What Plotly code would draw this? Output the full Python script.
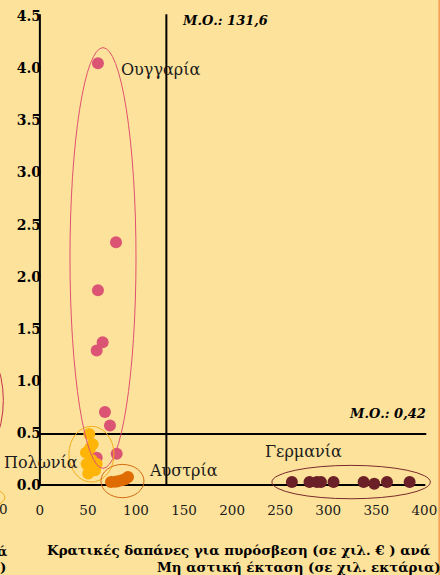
import plotly.graph_objects as go

# ---------------- data ----------------
hungary_x = [60.4, 79.2, 60.4, 65.3, 59.1, 67.7, 72.9, 79.9, 59.1]
hungary_y = [4.05, 2.33, 1.87, 1.37, 1.29, 0.70, 0.57, 0.30, 0.26]

poland_x = [51.4, 54.9, 52.1, 47.9, 53.9, 48.6, 59.1, 57.3, 50.3, 52.5]
poland_y = [0.49, 0.39, 0.35, 0.31, 0.24, 0.20, 0.20, 0.14, 0.11, 0.16]

austria_x = [74.0, 78.5, 81.3, 85.4, 88.5, 91.7]
austria_y = [0.027, 0.030, 0.035, 0.045, 0.055, 0.075]

germany_x = [262.2, 280.5, 288.2, 292.4, 305.5, 336.8, 347.9, 361.1, 384.7]
germany_y = [0.027, 0.027, 0.027, 0.027, 0.027, 0.027, 0.012, 0.027, 0.027]

mean_x = 131.6
mean_y_label = "0,42"
mean_y_line = 0.49   # where the reference draws the horizontal mean line

x_ticks = [0, 50, 100, 150, 200, 250, 300, 350, 400]
y_ticks = [0.0, 0.5, 1.0, 1.5, 2.0, 2.5, 3.0, 3.5, 4.0, 4.5]
y_tick_text = ["0.0", "0.5", "1.0", "1.5", "2.0", "2.5", "3.0", "3.5", "4.0", "4.5"]

country_names = ["Ουγγαρία", "Πολωνία", "Αυστρία", "Γερμανία"]
title_line1 = "Κρατικές δαπάνες για πυρόσβεση (σε χιλ. € ) ανά"
title_line2 = "Μη αστική έκταση (σε χιλ. εκτάρια)"

# ---------------- layout geometry ----------------
W, H = 440, 575
XR = [-3, 409]
YR = [-0.145, 4.6]
SX, SY = 0.96, 104.0
L = 40 - 3 * SX
PW = (XR[1] - XR[0]) * SX
R = W - L - PW
T = 484.5 - YR[1] * SY
PH = (YR[1] - YR[0]) * SY
B = H - T - PH

def pxx(p):
    return (p - L) / PW

def pxy(p):
    return (H - B - p) / PH

BG = "#FDE29B"
PINK = "#DB5474"
YEL = "#FFB508"
ORA = "#DF6C02"
MAR = "#6B1F26"
SERIF = "DejaVu Serif"

fig = go.Figure()
for xs, ys, c, n in [(hungary_x, hungary_y, PINK, country_names[0]),
                     (poland_x, poland_y, YEL, country_names[1]),
                     (austria_x, austria_y, ORA, country_names[2]),
                     (germany_x, germany_y, MAR, country_names[3])]:
    fig.add_trace(go.Scatter(x=xs, y=ys, mode="markers", name=n,
                             marker=dict(size=12, color=c, line=dict(width=0)),
                             cliponaxis=False, showlegend=False, hoverinfo="skip"))

shapes = []
# axis lines and mean lines
shapes.append(dict(type="line", xref="x", yref="y", x0=0, x1=0, y0=0, y1=4.52,
                   line=dict(color="black", width=2), layer="below"))
shapes.append(dict(type="line", xref="x", yref="y", x0=0, x1=401, y0=0, y1=0,
                   line=dict(color="black", width=2), layer="below"))
shapes.append(dict(type="line", xref="x", yref="y", x0=mean_x, x1=mean_x, y0=0, y1=4.52,
                   line=dict(color="black", width=2), layer="below"))
shapes.append(dict(type="line", xref="x", yref="y", x0=0, x1=402, y0=mean_y_line, y1=mean_y_line,
                   line=dict(color="black", width=2), layer="below"))
# group ellipses
shapes.append(dict(type="circle", xref="x", yref="y", x0=31.3, x1=100, y0=0.159, y1=4.20,
                   line=dict(color="#E0506F", width=1)))
shapes.append(dict(type="circle", xref="x", yref="y", x0=30.2, x1=77.1, y0=0.027, y1=0.5625,
                   line=dict(color="#F2AE1C", width=1)))
shapes.append(dict(type="circle", xref="x", yref="y", x0=63.5, x1=108.3, y0=-0.123, y1=0.197,
                   line=dict(color="#D26A12", width=1)))
shapes.append(dict(type="circle", xref="x", yref="y", x0=241.4, x1=406.2, y0=-0.133, y1=0.1875,
                   line=dict(color="#7A2A2C", width=1)))
# remnants of the neighbouring chart at the left edge and right border stripe
shapes.append(dict(type="circle", xref="paper", yref="paper", x0=pxx(-60), x1=pxx(3.5),
                   y0=pxy(460), y1=pxy(340), line=dict(color="#C0304A", width=1)))
shapes.append(dict(type="circle", xref="paper", yref="paper", x0=pxx(-40), x1=pxx(5),
                   y0=pxy(507), y1=pxy(487), line=dict(color="#F2AE1C", width=1)))
shapes.append(dict(type="rect", xref="paper", yref="paper", x0=pxx(438), x1=pxx(442),
                   y0=pxy(576), y1=pxy(-1), line=dict(width=0), fillcolor="#F5A257"))

ann = []
cfont = dict(family=SERIF, size=16, color="#1a1a1a")
ann.append(dict(x=82.3, y=3.99, xref="x", yref="y", text=country_names[0], showarrow=False,
                xanchor="left", yanchor="middle", font=cfont))
ann.append(dict(x=41.6, y=0.22, xref="x", yref="y", text=country_names[1], showarrow=False,
                xanchor="right", yanchor="middle", font=cfont))
ann.append(dict(x=111.5, y=0.14, xref="x", yref="y", text=country_names[2], showarrow=False,
                xanchor="left", yanchor="middle", font=cfont))
ann.append(dict(x=232.3, y=0.32, xref="x", yref="y", text=country_names[3], showarrow=False,
                xanchor="left", yanchor="middle", font=cfont))
mfont = dict(family=SERIF, size=13, color="black")
ann.append(dict(x=145.8, y=4.46, xref="x", yref="y", text="<b><i>Μ.Ο.: %s</i></b>" % str(mean_x).replace(".", ","),
                showarrow=False, xanchor="left", yanchor="middle", font=mfont))
ann.append(dict(x=403.6, y=0.69, xref="x", yref="y", text="<b><i>Μ.Ο.: %s</i></b>" % mean_y_label,
                showarrow=False, xanchor="right", yanchor="middle", font=mfont))
tfont = dict(family=SERIF, size=13.4, color="black")
ann.append(dict(x=pxx(45), y=pxy(550), xref="paper", yref="paper", text="<b>%s</b>" % title_line1,
                showarrow=False, xanchor="left", yanchor="middle", font=tfont))
ann.append(dict(x=pxx(155), y=pxy(567), xref="paper", yref="paper", text="<b>%s</b>" % title_line2,
                showarrow=False, xanchor="left", yanchor="middle", font=tfont))
# neighbouring chart remnants
ann.append(dict(x=pxx(10), y=pxy(509), xref="paper", yref="paper", text="0",
                showarrow=False, xanchor="right", yanchor="middle",
                font=dict(family=SERIF, size=13.5, color="#1a1a1a")))
ann.append(dict(x=pxx(9), y=pxy(551), xref="paper", yref="paper", text="<b>ά</b>",
                showarrow=False, xanchor="right", yanchor="middle", font=tfont))
ann.append(dict(x=pxx(8), y=pxy(567), xref="paper", yref="paper", text="<b>)</b>",
                showarrow=False, xanchor="right", yanchor="middle", font=tfont))

fig.update_layout(
    width=W, height=H,
    margin=dict(l=L, r=R, t=T, b=B, pad=0, autoexpand=False),
    paper_bgcolor=BG, plot_bgcolor=BG,
    shapes=shapes, annotations=ann,
    showlegend=False, hovermode=False,
    xaxis=dict(range=XR, tickvals=x_ticks, ticktext=[str(v) for v in x_ticks],
               showgrid=False, zeroline=False, showline=False, ticks="",
               tickfont=dict(family=SERIF, size=13.5, color="#1a1a1a"),
               ticklabelstandoff=0, automargin=False, fixedrange=True),
    yaxis=dict(range=YR, tickvals=y_ticks, ticktext=["<b>%s</b>" % t for t in y_tick_text],
               showgrid=False, zeroline=False, showline=False, ticks="",
               tickfont=dict(family=SERIF, size=14, color="black"),
               ticklabelstandoff=-5, automargin=False, fixedrange=True),
)

fig.write_html("out.html",
               config=dict(displayModeBar=False, staticPlot=True),
               post_script="document.body.style.margin='0';document.body.style.overflow='hidden';"
                           "document.body.style.background='%s';" % BG)
